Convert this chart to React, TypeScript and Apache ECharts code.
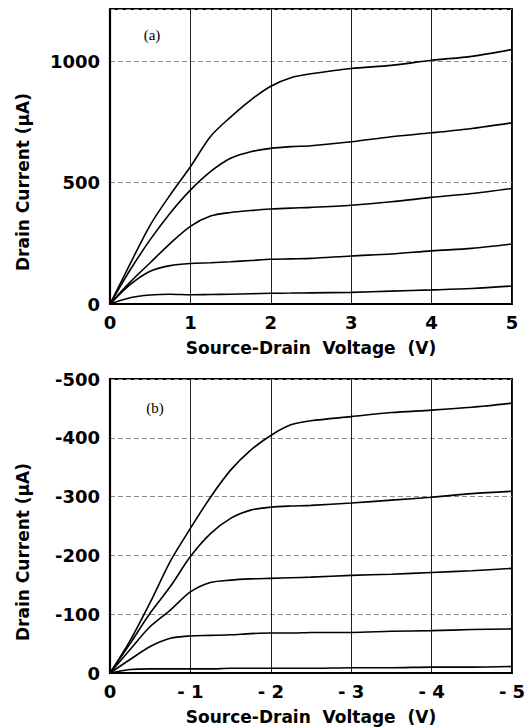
import React, { useEffect, useRef } from "react";
import * as echarts from "echarts";

// Panel (a): n-channel, Source-Drain Voltage (V) vs Drain Current (µA)
const voltA = [0, 0.25, 0.5, 0.75, 1, 1.25, 1.5, 1.75, 2, 2.25, 2.5, 3, 3.5, 4, 4.5, 5];
const curveA1 = [0, 165, 325, 450, 565, 690, 770, 840, 897, 932, 948, 970, 983, 1004, 1020, 1048];
const curveA2 = [0, 140, 265, 375, 469, 545, 600, 627, 641, 648, 652, 668, 689, 705, 723, 746];
const curveA3 = [0, 90, 170, 250, 320, 362, 377, 385, 391, 395, 398, 407, 421, 439, 455, 476];
const curveA4 = [0, 80, 135, 158, 167, 170, 174, 179, 184, 186, 188, 198, 206, 219, 229, 247];
const curveA5 = [0, 26, 37, 40, 38, 39, 40, 42, 44, 45, 46, 48, 53, 58, 64, 74];

// Panel (b): p-channel
const voltB = [0, -0.25, -0.5, -0.75, -1, -1.25, -1.5, -1.75, -2, -2.25, -2.5, -3, -3.5, -4, -4.5, -5];
const curveB1 = [0, -55, -120, -190, -246, -299, -345, -379, -404, -422, -429, -436, -443, -447, -452, -459];
const curveB2 = [0, -50, -102, -147, -198, -237, -263, -277, -282, -284, -285, -289, -294, -299, -305, -309];
const curveB3 = [0, -40, -79, -107, -138, -154, -158, -160, -161, -162, -163, -166, -168, -171, -174, -178];
const curveB4 = [0, -23, -45, -59, -63, -64, -65, -67, -68, -68, -69, -69, -71, -72, -74, -75];
const curveB5 = [0, -6, -7, -7, -7, -7, -8, -8, -8, -8, -8, -9, -9, -10, -10, -11];

const xTitle = "Source-Drain  Voltage  (V)";
const yTitle = "Drain Current (\u03bcA)";

const LABEL_FONT = "DejaVu Sans";

export default function App() {
  const ref = useRef<HTMLDivElement>(null);
  useEffect(() => {
    if (!ref.current) return;
    const chart = echarts.init(ref.current, null, { renderer: "svg" });
    const mkLabel = (extra: any) => ({
      color: "#000",
      fontFamily: LABEL_FONT,
      fontWeight: "bold",
      fontSize: 18,
      ...extra,
    });
    const mkName = () => ({
      color: "#000",
      fontFamily: LABEL_FONT,
      fontWeight: "bold",
      fontSize: 17,
    });
    const mkVSplit = () => ({ show: true, lineStyle: { color: "#222", width: 1 } });
    const mkHSplit = () => ({ show: true, lineStyle: { color: "#8a8a8a", width: 1, type: [5, 3] } });
    const mkAxisLine = () => ({ show: true, onZero: false, lineStyle: { color: "#000", width: 2.2 } });
    const series: any[] = [];
    [curveA1, curveA2, curveA3, curveA4, curveA5].forEach((c) =>
      series.push({
        type: "line",
        xAxisIndex: 0,
        yAxisIndex: 0,
        data: voltA.map((x, i) => [x, c[i]]),
        showSymbol: false,
        smooth: 0.3,
        lineStyle: { color: "#000", width: 1.6 },
      })
    );
    [curveB1, curveB2, curveB3, curveB4, curveB5].forEach((c) =>
      series.push({
        type: "line",
        xAxisIndex: 1,
        yAxisIndex: 1,
        data: voltB.map((x, i) => [x, c[i]]),
        showSymbol: false,
        smooth: 0.3,
        lineStyle: { color: "#000", width: 1.6 },
      })
    );
    const titleText = (x: number, y: number) => ({
      type: "text",
      x,
      y,
      rotation: Math.PI / 2,
      style: {
        text: yTitle,
        fill: "#000",
        fontFamily: LABEL_FONT,
        fontWeight: "bold",
        fontSize: 17,
        textAlign: "center",
        textVerticalAlign: "middle",
      },
    });
    const panelText = (x: number, y: number, t: string) => ({
      type: "text",
      x,
      y,
      style: {
        text: t,
        fill: "#000",
        fontFamily: "Liberation Serif",
        fontSize: 15,
        textAlign: "center",
        textVerticalAlign: "middle",
      },
    });
    chart.setOption({
      animation: false,
      backgroundColor: "#fff",
      grid: [
        { left: 110, top: 9, width: 402, height: 295, show: true, borderColor: "#000", borderWidth: 2 },
        { left: 110, top: 379, width: 402, height: 294, show: true, borderColor: "#000", borderWidth: 2 },
      ],
      xAxis: [
        {
          type: "value",
          gridIndex: 0,
          min: 0,
          max: 5,
          interval: 1,
          axisLine: mkAxisLine(),
          axisTick: { show: false },
          splitLine: mkVSplit(),
          axisLabel: mkLabel({ margin: 9 }),
          name: xTitle,
          nameLocation: "middle",
          nameGap: 35,
          nameTextStyle: mkName(),
        },
        {
          type: "value",
          gridIndex: 1,
          min: -5,
          max: 0,
          interval: 1,
          inverse: true,
          axisLine: mkAxisLine(),
          axisTick: { show: false },
          splitLine: mkVSplit(),
          axisLabel: mkLabel({
            margin: 9,
            formatter: (v: number) => (v === 0 ? "0" : "- " + Math.abs(v)),
          }),
          name: xTitle,
          nameLocation: "middle",
          nameGap: 35,
          nameTextStyle: mkName(),
        },
      ],
      yAxis: [
        {
          type: "value",
          gridIndex: 0,
          min: 0,
          max: 1215,
          interval: 500,
          axisLine: mkAxisLine(),
          axisTick: { show: false },
          splitLine: mkHSplit(),
          axisLabel: mkLabel({
            margin: 10,
            showMaxLabel: false,
            formatter: (v: number) => String(v),
          }),
        },
        {
          type: "value",
          gridIndex: 1,
          min: -500,
          max: 0,
          interval: 100,
          inverse: true,
          axisLine: mkAxisLine(),
          axisTick: { show: false },
          splitLine: mkHSplit(),
          axisLabel: mkLabel({ margin: 10, formatter: (v: number) => String(v) }),
        },
      ],
      graphic: [
        { type: "rect", shape: { x: 110, y: 9, width: 402, height: 295 }, style: { fill: "none", stroke: "#000", lineWidth: 2 } },
        { type: "rect", shape: { x: 110, y: 379, width: 402, height: 294 }, style: { fill: "none", stroke: "#000", lineWidth: 2 } },
        titleText(23, 182),
        titleText(23, 552),
        panelText(152, 35, "(a)"),
        panelText(155, 408, "(b)"),
      ],
      series,
    });
    return () => chart.dispose();
  }, []);
  return (
    <div
      ref={ref}
      style={{ position: "absolute", left: 0, top: 0, width: 532, height: 727, background: "#fff" }}
    />
  );
}
